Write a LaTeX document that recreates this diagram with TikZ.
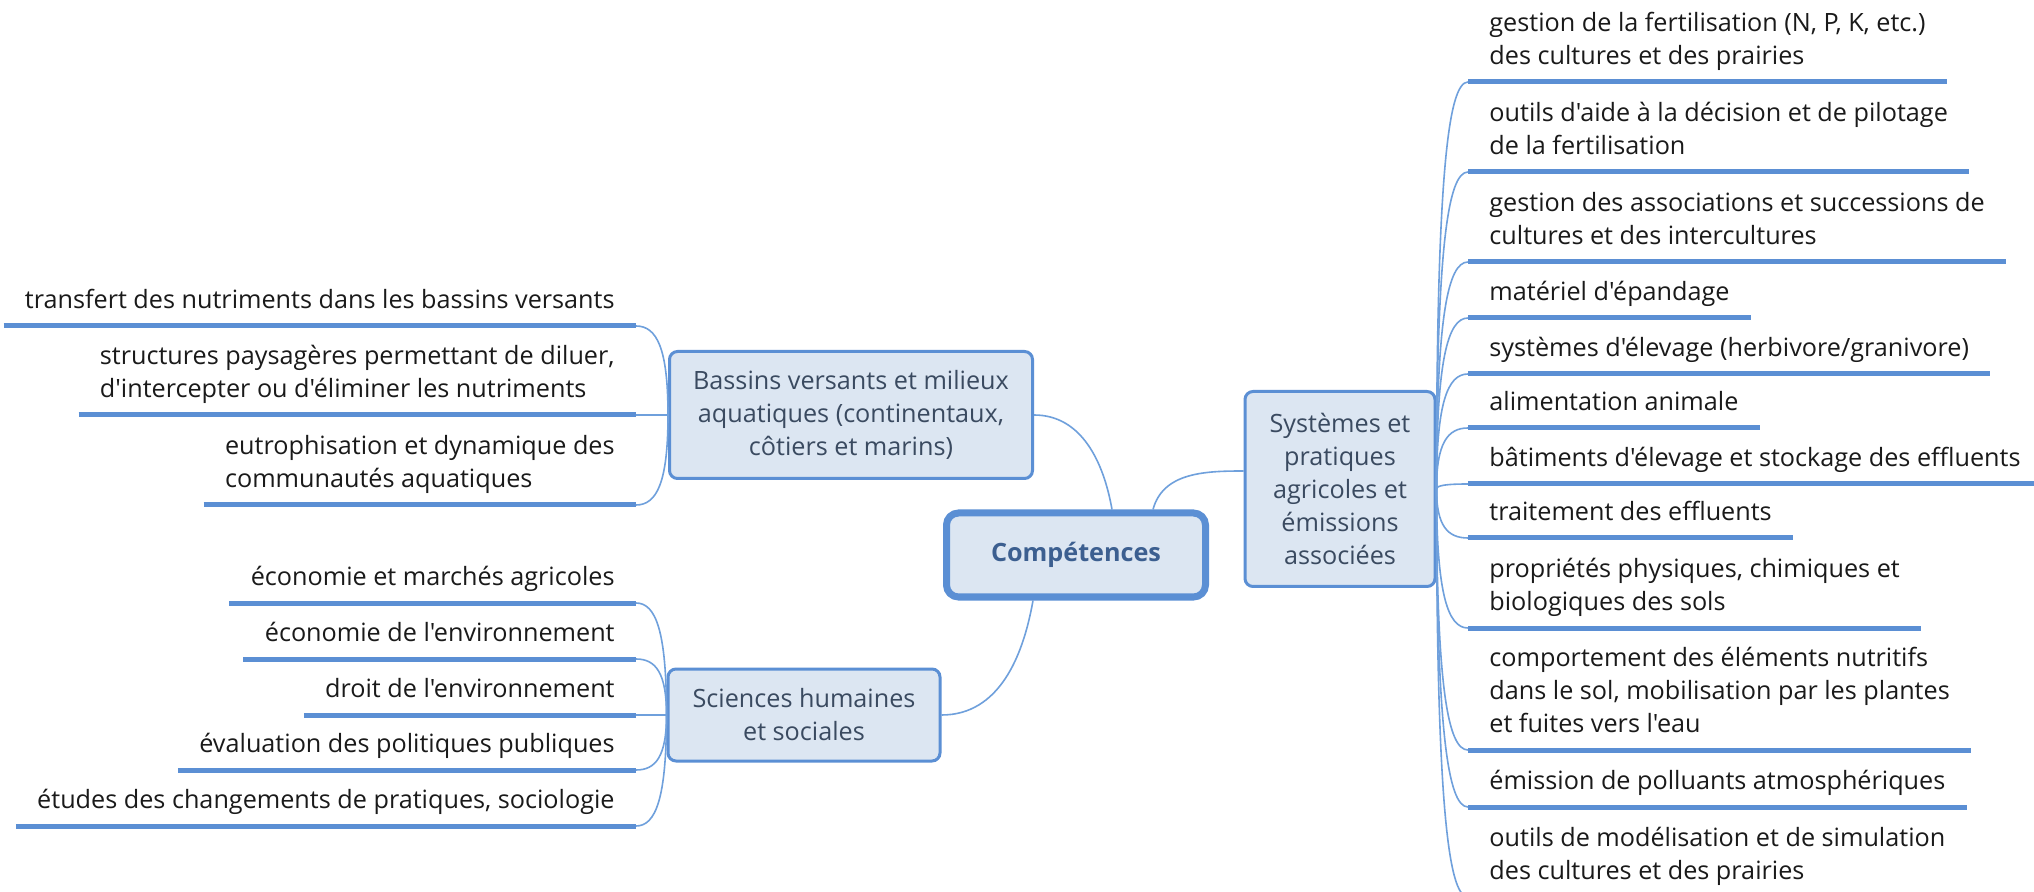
\documentclass[tikz,border=0pt]{standalone}
\usepackage{fontspec}
\setmainfont{Open Sans}[Ligatures=TeXOff]
\usetikzlibrary{calc}
\definecolor{boxfill}{HTML}{DCE6F2}
\definecolor{boxline}{HTML}{5B8FD4}
\definecolor{linkc}{HTML}{6FA0DC}
\definecolor{uline}{HTML}{5B8FD4}
\definecolor{boxtext}{HTML}{3A4A60}
\definecolor{maintext}{HTML}{3C5F90}
\definecolor{leaftext}{HTML}{1A1A1A}
\newcommand\lstrut{\rule[-6pt]{0pt}{6pt}}
\newcommand\leafto[2]{\draw[link] (#1) .. controls ($(#1)!0.75!(#1|-#2)$) and ($(#1|-#2)!0.35!(#2)$) .. (#2);}
\begin{document}
\begin{tikzpicture}[x=0.5pt,y=-0.5pt,
  every node/.style={font=\fontsize{12.6}{16.5}\selectfont},
  topic/.style={draw=boxline, line width=1.5pt, fill=boxfill, rounded corners=4pt, align=center, text=boxtext, inner sep=0pt},
  central/.style={draw=boxline, line width=3.5pt, fill=boxfill, rounded corners=6pt, text=maintext, font=\fontsize{12.6}{16.5}\selectfont\bfseries, inner sep=0pt},
  leafr/.style={anchor=south west, align=left, text=leaftext, inner xsep=10.5pt, inner ysep=2.5pt},
  leafl/.style={anchor=south east, align=left, text=leaftext, inner xsep=10.5pt, inner ysep=2.5pt},
  link/.style={draw=linkc, line width=0.8pt},
  ul/.style={draw=uline, line width=2.5pt},
]
\fill[white] (0,0) rectangle (2034,892);
\useasboundingbox (0,0) rectangle (2034,892);

% main topics
\node[central, minimum width=129.5pt, minimum height=42pt] (cen) at (1076,555) {Compétences};
\node[topic, minimum width=181.5pt, minimum height=63.5pt] (bas) at (851,415)
  {Bassins versants et milieux\\aquatiques (continentaux,\\côtiers et marins)};
\node[topic, minimum width=95pt, minimum height=97.5pt] (sys) at (1340,489)
  {Systèmes et\\pratiques\\agricoles et\\émissions\\associées};
\node[topic, minimum width=136pt, minimum height=46pt] (sci) at (804,715)
  {Sciences humaines\\et sociales};

\draw[link] (bas.east) to[out=0,in=100] ([xshift=18pt]cen.north);
\draw[link] ([xshift=38.5pt]cen.north) to[out=75,in=180] ([yshift=9pt]sys.west);
\draw[link] ([xshift=-21.5pt]cen.south) to[out=-100,in=0] (sci.east);

% right leaves
\node[leafr] (r1) at (1468,82) {gestion de la fertilisation (N, P, K, etc.)\\des cultures et des prairies\lstrut};
\node[leafr] (r2) at (1468,172) {outils d'aide à la décision et de pilotage\\de la fertilisation\lstrut};
\node[leafr] (r3) at (1468,262) {gestion des associations et successions de\\cultures et des intercultures\lstrut};
\node[leafr] (r4) at (1468,318) {matériel d'épandage\lstrut};
\node[leafr] (r5) at (1468,374) {systèmes d'élevage (herbivore/granivore)\lstrut};
\node[leafr] (r6) at (1468,428) {alimentation animale\lstrut};
\node[leafr] (r7) at (1468,484) {bâtiments d'élevage et stockage des effluents\lstrut};
\node[leafr] (r8) at (1468,538) {traitement des effluents\lstrut};
\node[leafr] (r9) at (1468,628) {propriétés physiques, chimiques et\\biologiques des sols\lstrut};
\node[leafr] (r10) at (1468,750) {comportement des éléments nutritifs\\dans le sol, mobilisation par les plantes\\et fuites vers l'eau\lstrut};
\node[leafr] (r11) at (1468,807) {émission de polluants atmosphériques\lstrut};
\node[leafr] (r12) at (1468,897) {outils de modélisation et de simulation\\des cultures et des prairies\lstrut};

\foreach \n in {r1,r2,r3,r4,r5,r6,r7,r8,r9,r10,r11,r12}{
  \draw[ul] (\n.south west) -- (\n.south east);
  \leafto{sys.east}{\n.south west}
}

% left leaves (Bassins)
\node[leafl] (l1) at (636,326) {transfert des nutriments dans les bassins versants\lstrut};
\node[leafl] (l2) at (636,415) {structures paysagères permettant de diluer,\\d'intercepter ou d'éliminer les nutriments\lstrut};
\node[leafl] (l3) at (636,505) {eutrophisation et dynamique des\\communautés aquatiques\lstrut};
\foreach \n in {l1,l2,l3}{
  \draw[ul] (\n.south west) -- (\n.south east);
  \leafto{bas.west}{\n.south east}
}

% left leaves (Sciences)
\node[leafl] (s1) at (636,603) {économie et marchés agricoles\lstrut};
\node[leafl] (s2) at (636,659) {économie de l'environnement\lstrut};
\node[leafl] (s3) at (636,715) {droit de l'environnement\lstrut};
\node[leafl] (s4) at (636,770) {évaluation des politiques publiques\lstrut};
\node[leafl] (s5) at (636,826) {études des changements de pratiques, sociologie\lstrut};
\foreach \n in {s1,s2,s3,s4,s5}{
  \draw[ul] (\n.south west) -- (\n.south east);
  \leafto{sci.west}{\n.south east}
}
\end{tikzpicture}
\end{document}
